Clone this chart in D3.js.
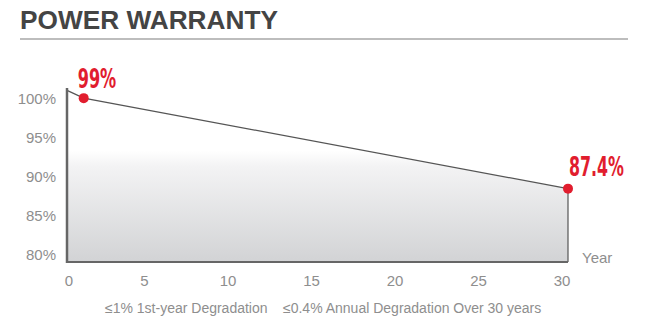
<!DOCTYPE html>
<html>
<head>
<meta charset="utf-8">
<script src="https://cdn.jsdelivr.net/npm/d3@7"></script>
<style>
  html, body { margin: 0; padding: 0; background: #fff; }
  svg { display: block; }
</style>
</head>
<body>
<svg id="chart" width="649" height="329"></svg>
<script>
// ---- data ----
const title = "POWER WARRANTY";
const years = [0, 1, 30];
const warrantyValues = [100, 99, 87.4];
const highlightYears = [1, 30];
const highlightLabels = ["99%", "87.4%"];
const xTicks = [0, 5, 10, 15, 20, 25, 30];
const yTicks = [80, 85, 90, 95, 100];
const xAxisTitle = "Year";
const footnotes = ["≤1% 1st-year Degradation", "≤0.4% Annual Degradation Over 30 years"];

const data = years.map((t, i) => ({ year: t, value: warrantyValues[i] }));

const svg = d3.select("#chart");
const SANS = "'Liberation Sans', Arial, sans-serif";
const NARROW = "'Liberation Sans Narrow', 'DejaVu Sans Condensed', 'Liberation Sans', sans-serif";

// scales
const x = d3.scaleLinear().domain([0, 30]).range([67, 568]);
const y = d3.scaleLinear().domain([78, 100.3]).range([262, 88]);

// title
svg.append("text")
  .attr("x", 20).attr("y", 28.5)
  .style("font-family", SANS)
  .attr("font-weight", "bold")
  .attr("font-size", 26)
  .attr("fill", "#444")
  .attr("textLength", 258)
  .attr("lengthAdjust", "spacingAndGlyphs")
  .text(title);

svg.append("line")
  .attr("x1", 20).attr("x2", 628)
  .attr("y1", 39).attr("y2", 39)
  .attr("stroke", "#bdbdbd").attr("stroke-width", 2);

// gradient
const defs = svg.append("defs");
const grad = defs.append("linearGradient")
  .attr("id", "areaGrad")
  .attr("gradientUnits", "userSpaceOnUse")
  .attr("x1", 0).attr("x2", 0)
  .attr("y1", y.range()[1]).attr("y2", y.range()[0]);
grad.append("stop").attr("offset", 0).attr("stop-color", "#ffffff");
grad.append("stop").attr("offset", 0.36).attr("stop-color", "#ffffff");
grad.append("stop").attr("offset", 0.45).attr("stop-color", "#f3f3f4");
grad.append("stop").attr("offset", 1).attr("stop-color", "#d2d3d5");

// area
const area = d3.area()
  .x(d => x(d.year))
  .y0(y(y.domain()[0]))
  .y1(d => y(d.value));
svg.append("path")
  .datum(data)
  .attr("d", area)
  .attr("fill", "url(#areaGrad)");

// line
const line = d3.line().x(d => x(d.year)).y(d => y(d.value));
svg.append("path")
  .datum(data)
  .attr("d", line)
  .attr("fill", "none")
  .attr("stroke", "#555")
  .attr("stroke-width", 1.2);

// right edge vertical line
const last = data[data.length - 1];
svg.append("line")
  .attr("x1", x(last.year)).attr("x2", x(last.year))
  .attr("y1", y(last.value)).attr("y2", y(y.domain()[0]))
  .attr("stroke", "#555").attr("stroke-width", 1.2);

// axes lines
svg.append("line")
  .attr("x1", x(0)).attr("x2", x(0))
  .attr("y1", y.range()[1]).attr("y2", y.range()[0] + 1)
  .attr("stroke", "#666").attr("stroke-width", 2.5);
svg.append("line")
  .attr("x1", x(0) - 1).attr("x2", x(30))
  .attr("y1", y.range()[0]).attr("y2", y.range()[0])
  .attr("stroke", "#666").attr("stroke-width", 2.2);

// y tick labels
svg.append("g").selectAll("text")
  .data(yTicks).join("text")
  .attr("x", 56)
  .attr("y", d => y(d) + 8)
  .attr("dy", "0.35em")
  .attr("text-anchor", "end")
  .style("font-family", SANS)
  .attr("font-size", 15)
  .attr("fill", "#8e8e8e")
  .text(d => d + "%");

// x tick labels
svg.append("g").selectAll("text")
  .data(xTicks).join("text")
  .attr("x", d => d === 0 ? x(d) + 2 : x(d) - 6)
  .attr("y", 286)
  .attr("text-anchor", "middle")
  .style("font-family", SANS)
  .attr("font-size", 15)
  .attr("fill", "#8e8e8e")
  .text(d => d);

// x axis title
svg.append("text")
  .attr("x", 582).attr("y", 262.5)
  .style("font-family", SANS)
  .attr("font-size", 15)
  .attr("fill", "#8e8e8e")
  .text(xAxisTitle);

// highlighted points
const hl = highlightYears.map((t, i) => {
  const d = data.find(e => e.year === t);
  return { year: t, value: d.value, label: highlightLabels[i] };
});
svg.append("g").selectAll("circle")
  .data(hl).join("circle")
  .attr("cx", d => x(d.year))
  .attr("cy", d => y(d.value))
  .attr("r", 5)
  .attr("fill", "#e11d2e");

const labelWidths = [38.5, 55];
svg.append("g").selectAll("text")
  .data(hl).join("text")
  .attr("x", d => x(d.year) + (d.year === 30 ? 1 : -6))
  .attr("y", d => y(d.value) - (d.year === 30 ? 12.5 : 10))
  .style("font-family", NARROW)
  .attr("font-weight", "bold")
  .attr("font-size", 26)
  .attr("fill", "#e11d2e")
  .attr("textLength", (d, i) => labelWidths[i])
  .attr("lengthAdjust", "spacingAndGlyphs")
  .text(d => d.label);

// footnotes
svg.append("text")
  .attr("x", 105).attr("y", 313)
  .style("font-family", SANS)
  .attr("font-size", 14)
  .attr("fill", "#8e8e8e")
  .text(footnotes[0]);
svg.append("text")
  .attr("x", 283).attr("y", 313)
  .style("font-family", SANS)
  .attr("font-size", 14)
  .attr("fill", "#8e8e8e")
  .text(footnotes[1]);
</script>
</body>
</html>
